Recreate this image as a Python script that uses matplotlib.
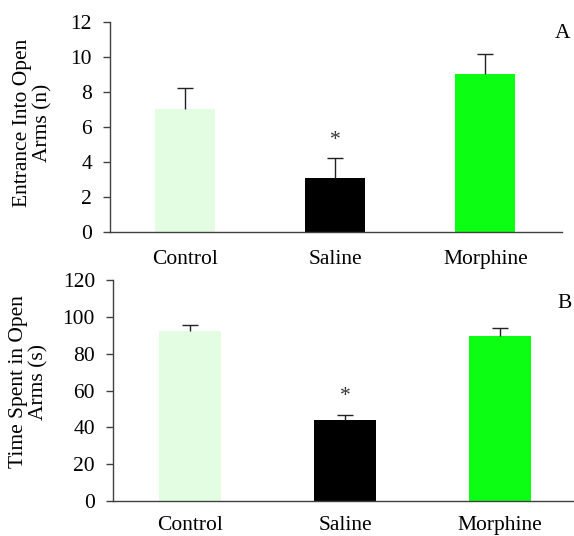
import matplotlib
matplotlib.use("Agg")
import matplotlib.pyplot as plt
import numpy as np

categories = ["Control", "Saline", "Morphine"]
entrance_mean = [7.0, 3.1, 9.0]
entrance_err = [1.25, 1.15, 1.15]
time_mean = [92.3, 44.0, 89.6]
time_err = [3.2, 2.5, 4.2]
colors = ["#e3fde3", "#000000", "#0cff12"]

plt.rcParams['font.family'] = ['Liberation Serif', 'DejaVu Serif']
FS = 15.5

fig = plt.figure(figsize=(5.74, 5.36), dpi=100)
axA = fig.add_axes([0.1916, 0.5672, 0.979 - 0.1916, 0.959 - 0.5672])
axB = fig.add_axes([0.1969, 0.0653, 1.0 - 0.1969, 0.4776 - 0.0653])

def panel(ax, means, errs, ylim, yticks, ylabel, star_y, xlim_right, xpad):
    x = np.arange(len(categories))
    ax.bar(x, means, width=0.4, color=colors, edgecolor='none', zorder=2)
    eb = ax.errorbar(x, means, yerr=[np.zeros(len(errs)), errs], fmt='none',
                     ecolor='#222222', elinewidth=1.0, capsize=6, capthick=1.0, zorder=3)
    caps = eb[1]
    if len(caps) == 2:
        caps[0].set_visible(False)
    ax.set_xlim(-0.5, xlim_right)
    ax.set_ylim(*ylim)
    ax.set_yticks(yticks)
    ax.set_xticks(x)
    ax.set_xticklabels(categories, fontsize=FS)
    ax.tick_params(axis='x', length=0, pad=xpad)
    ax.tick_params(axis='y', length=5, width=1, color='#404040', labelsize=FS, pad=8)
    for s in ['top', 'right']:
        ax.spines[s].set_visible(False)
    for s in ['left', 'bottom']:
        ax.spines[s].set_color('#404040')
        ax.spines[s].set_linewidth(1.0)
    ax.set_ylabel(ylabel, fontsize=FS, linespacing=1.1)
    ax.text(1, star_y, "*", ha='center', va='center', fontsize=FS, color='#333333')
    return ax

panel(axA, entrance_mean, entrance_err, (0, 12), [0, 2, 4, 6, 8, 10, 12],
      "Entrance Into Open\nArms (n)", 5.2, 2.51, 13)
axA.yaxis.set_label_coords(-0.127, 0.52)
fig.text(563 / 574, 1 - 33 / 536, "A", fontsize=FS, ha='center', va='center')

panel(axB, time_mean, time_err, (0, 120), [0, 20, 40, 60, 80, 100, 120],
      "Time Spent in Open\nArms (s)", 57, 2.48, 11)
axB.yaxis.set_label_coords(-0.14, 0.54)
fig.text(565 / 574, 1 - 303 / 536, "B", fontsize=FS, ha='center', va='center')

fig.savefig("out.png", dpi=100)
